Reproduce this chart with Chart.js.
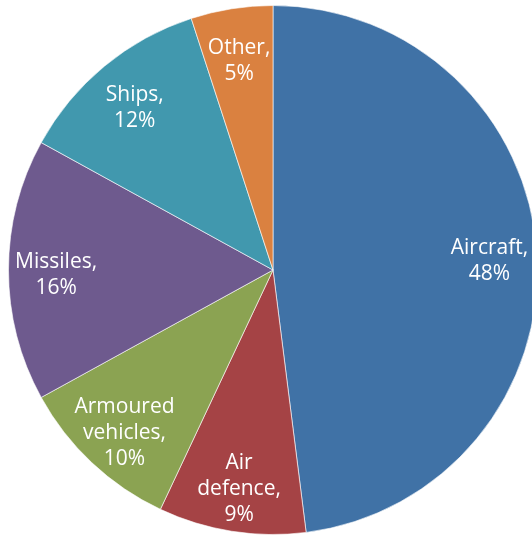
<!DOCTYPE html>
<html>
<head>
<meta charset="utf-8">
<script src="https://cdn.jsdelivr.net/npm/chart.js@4"></script>
<style>
  html, body { margin: 0; padding: 0; background: #fff; overflow: hidden; }
  #wrap { position: relative; width: 546px; height: 540px; }
</style>
</head>
<body>
<div id="wrap"><canvas id="pieChart"></canvas></div>
<script>
const categories = ["Aircraft", "Air defence", "Armoured vehicles", "Missiles", "Ships", "Other"];
const shares = [48, 9, 10, 16, 12, 5];
const labelLines = [
    ["Aircraft,", "48%"],
    ["Air", "defence,", "9%"],
    ["Armoured", "vehicles,", "10%"],
    ["Missiles,", "16%"],
    ["Ships,", "12%"],
    ["Other,", "5%"]
];
const colours = ["#4072a6", "#a54345", "#8ba352", "#6e5a8e", "#4198ae", "#da8140"];

const sliceLabels = {
    id: "sliceLabels",
    afterDatasetsDraw(chart) {
        const ctx = chart.ctx;
        const meta = chart.getDatasetMeta(0);
        ctx.save();
        ctx.fillStyle = "#fff";
        ctx.font = "21px 'Open Sans', sans-serif";
        ctx.textAlign = "center";
        ctx.textBaseline = "middle";
        meta.data.forEach((arc, i) => {
            const mid = (arc.startAngle + arc.endAngle) / 2;
            const r = arc.outerRadius * 0.82;
            const x = arc.x + Math.cos(mid) * r;
            const y = arc.y + Math.sin(mid) * r + 5;
            const lines = labelLines[i];
            const lh = 26;
            lines.forEach((t, j) => {
                ctx.fillText(t, x, y + (j - (lines.length - 1) / 2) * lh);
            });
        });
        ctx.restore();
    }
};

new Chart(document.getElementById("pieChart"), {
    type: "pie",
    data: {
        labels: categories,
        datasets: [{
            data: shares,
            backgroundColor: colours,
            borderColor: "rgba(255,255,255,0.6)",
            borderWidth: 1
        }]
    },
    options: {
        responsive: true,
        maintainAspectRatio: false,
        animation: false,
        layout: { padding: { top: 5, bottom: 5, left: 0, right: 0 } },
        plugins: {
            legend: { display: false },
            tooltip: { enabled: false }
        }
    },
    plugins: [sliceLabels]
});
</script>
</body>
</html>
